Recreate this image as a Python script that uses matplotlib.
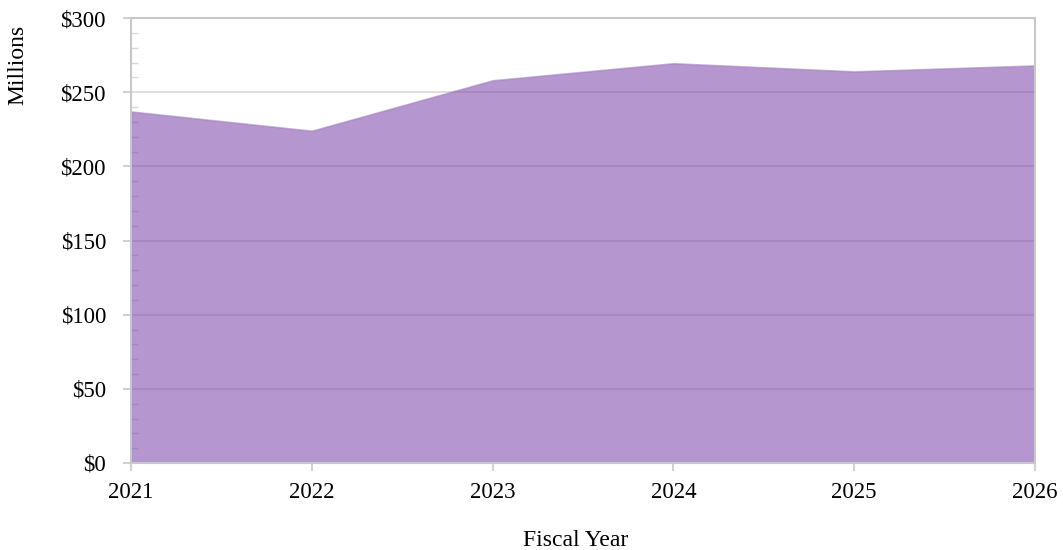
import matplotlib.pyplot as plt
from matplotlib.ticker import MultipleLocator, FuncFormatter

years = [2021, 2022, 2023, 2024, 2025, 2026]
spending = [237, 224, 258, 269.5, 264, 268]

plt.rcParams['font.family'] = ['Liberation Serif', 'DejaVu Serif']

fig = plt.figure(figsize=(10.63, 5.5), dpi=100)
ax = fig.add_axes([131 / 1063, 87 / 550, 904 / 1063, 445 / 550])

# grid first, translucent fill on top so lines show through darker
ax.set_axisbelow(True)
ax.yaxis.grid(True, color='#d9d9d9', linewidth=1.2)
ax.fill_between(years, spending, 0, color='#804aab', alpha=0.58, linewidth=1.2, edgecolor='#9f80c0', zorder=2)

ax.set_xlim(2021, 2026)
ax.set_ylim(0, 300)
ax.set_xticks(years)
ax.yaxis.set_major_locator(MultipleLocator(50))
ax.yaxis.set_minor_locator(MultipleLocator(10))
ax.yaxis.set_major_formatter(FuncFormatter(lambda v, p: f"${v:.0f}"))

for s in ax.spines.values():
    s.set_color('#c8c8c8')
    s.set_linewidth(1.5)

ax.tick_params(axis='both', which='major', labelsize=16.5, color='#c8c8c8', length=6, width=1.2, direction='out')
ax.tick_params(axis='x', which='major', pad=8)
ax.tick_params(axis='y', which='major', pad=12)
ax.tick_params(axis='y', which='minor', color='#d9d9d9', length=5, width=1, direction='in')

fig.text(576 / 1063, 1 - 540 / 550, 'Fiscal Year', ha='center', va='center', fontsize=17)
fig.text(18 / 1063, 1 - 65 / 550, 'Millions', ha='center', va='center', rotation=90, fontsize=17)

fig.savefig('out.png', dpi=100)
